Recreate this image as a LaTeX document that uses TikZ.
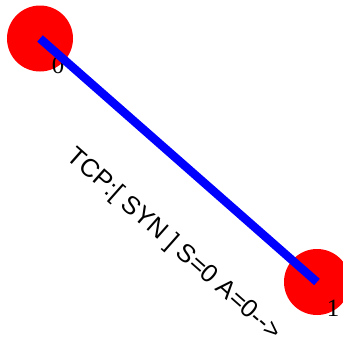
\documentclass[tikz,border=0pt]{standalone}
\usepackage{fontspec}
\setmainfont{Liberation Serif}
\newfontfamily\labelsans{Liberation Sans}
\begin{document}
\begin{tikzpicture}[x=1bp,y=-1bp,
  host/.style={circle,fill=red,minimum size=66bp,inner sep=0pt},
  idlabel/.style={font=\fontsize{25}{25}\selectfont,inner sep=0pt},
  link/.style={draw=blue,line width=8.5bp},
  msg/.style={font=\labelsans\fontsize{25.5}{25.5}\selectfont,inner sep=0pt,rotate=-41.5}]
\useasboundingbox (0,0) rectangle (343,346);
\node[host] (n0) at (40,38.5) {};
\node[host] (n1) at (317,282) {};
\node[idlabel] (l0) at (58,65.5) {0};
\node[idlabel] (l1) at (333,308) {1};
\draw[link] (n0.center) -- (n1.center);
\node[msg] (m) at (173.5,245) {TCP:[ SYN ] S=0 A=0-->};
\end{tikzpicture}
\end{document}
